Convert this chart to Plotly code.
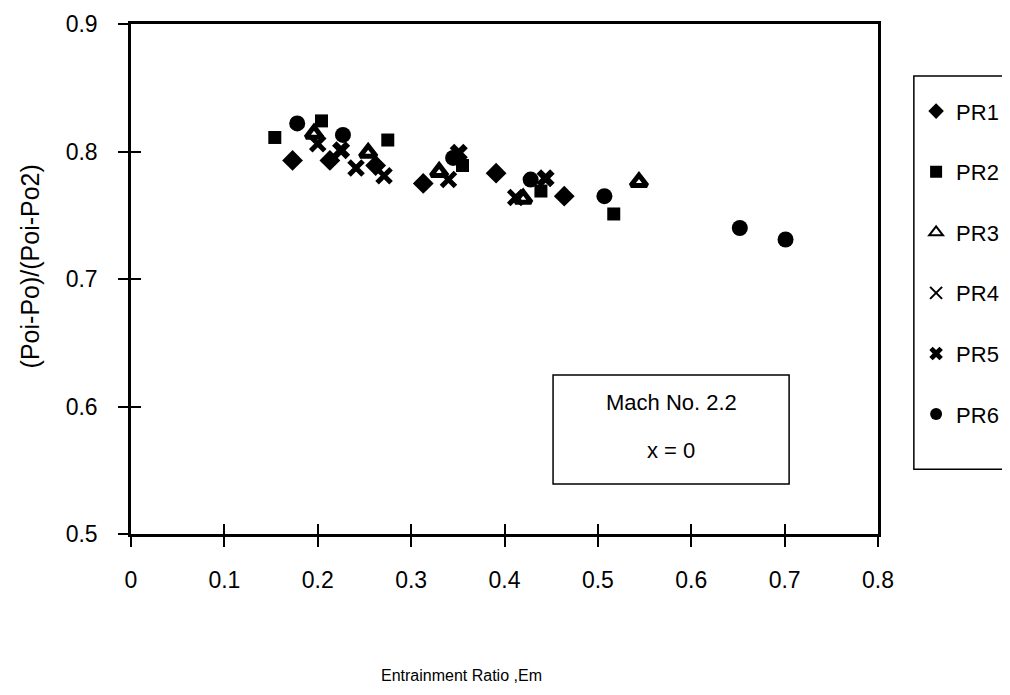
import plotly.graph_objects as go

# ---- data ----
pr1_x = [0.173, 0.213, 0.262, 0.313, 0.391, 0.464]
pr1_y = [0.793, 0.793, 0.789, 0.775, 0.783, 0.765]

pr2_x = [0.154, 0.204, 0.275, 0.355, 0.439, 0.517]
pr2_y = [0.811, 0.824, 0.809, 0.789, 0.769, 0.751]

pr3_x = [0.196, 0.254, 0.330, 0.420, 0.544]
pr3_y = [0.814, 0.799, 0.784, 0.763, 0.776]

pr4_x = [0.200, 0.241, 0.271, 0.340, 0.412]
pr4_y = [0.806, 0.787, 0.781, 0.778, 0.764]

pr5_x = [0.225, 0.351, 0.444]
pr5_y = [0.801, 0.799, 0.779]

pr6_x = [0.178, 0.227, 0.345, 0.428, 0.507, 0.652, 0.701]
pr6_y = [0.822, 0.813, 0.795, 0.778, 0.765, 0.740, 0.731]

series_names = ["PR1", "PR2", "PR3", "PR4", "PR5", "PR6"]
x_ticks = [0, 0.1, 0.2, 0.3, 0.4, 0.5, 0.6, 0.7, 0.8]
x_tick_labels = ["0", "0.1", "0.2", "0.3", "0.4", "0.5", "0.6", "0.7", "0.8"]
y_ticks = [0.5, 0.6, 0.7, 0.8, 0.9]
y_tick_labels = ["0.5", "0.6", "0.7", "0.8", "0.9"]

FONT = "Liberation Sans, Arial, sans-serif"

styles = [
    dict(symbol="diamond", size=16, color="black"),
    dict(symbol="square", size=13, color="black"),
    dict(symbol="triangle-up-open", size=14, color="black", line=dict(width=5, color="black")),
    dict(symbol="x-thin-open", size=14, color="black", line=dict(width=5, color="black")),
    dict(symbol="x", size=16, color="black", line=dict(width=0)),
    dict(symbol="circle", size=16, color="black"),
]
xs = [pr1_x, pr2_x, pr3_x, pr4_x, pr5_x, pr6_x]
ys = [pr1_y, pr2_y, pr3_y, pr4_y, pr5_y, pr6_y]

fig = go.Figure()
for name, x, y, st in zip(series_names, xs, ys, styles):
    fig.add_trace(go.Scatter(
        x=x, y=y, mode="markers", name=name, legendgroup=name,
        marker=st,
    ))

# invisible trace on overlay axes so the inner tick halves are drawn
fig.add_trace(go.Scatter(x=[0.4], y=[0.7], xaxis="x2", yaxis="y2",
                         mode="markers", marker=dict(opacity=0),
                         showlegend=False, hoverinfo="skip"))

axis_common = dict(showgrid=False, zeroline=False, showline=True,
                   linecolor="black", linewidth=2.5, mirror=True,
                   tickcolor="black", tickwidth=2, ticklen=10,
                   automargin=False)

fig.update_layout(
    width=1010, height=695,
    paper_bgcolor="white", plot_bgcolor="white",
    margin=dict(l=123, r=140, t=16, b=169),
    font=dict(family=FONT, size=22, color="black"),
    showlegend=True,
    legend=dict(
        x=1.051, xanchor="left", y=0.870, yanchor="top",
        borderwidth=0, bgcolor="rgba(0,0,0,0)",
        font=dict(size=22), traceorder="grouped", tracegroupgap=29,
        itemsizing="constant",
    ),
    xaxis=dict(range=[0, 0.8], tickvals=x_ticks, ticktext=x_tick_labels,
               ticks="outside", ticklabelstandoff=14,
               tickfont=dict(size=23),
               **axis_common),
    yaxis=dict(range=[0.5, 0.9], tickvals=y_ticks, ticktext=y_tick_labels,
               ticks="outside", ticklabelstandoff=16,
               tickfont=dict(size=23),
               **axis_common),
    xaxis2=dict(range=[0, 0.8], overlaying="x", side="bottom",
                tickvals=x_ticks, ticks="inside", showticklabels=False,
                showgrid=False, zeroline=False, showline=False,
                tickcolor="black", tickwidth=2, ticklen=10),
    yaxis2=dict(range=[0.5, 0.9], overlaying="y", side="left",
                tickvals=y_ticks, ticks="inside", showticklabels=False,
                showgrid=False, zeroline=False, showline=False,
                tickcolor="black", tickwidth=2, ticklen=10),
)

# axis titles
fig.add_annotation(xref="paper", yref="paper", x=0.443, y=-0.278,
                   xanchor="center", yanchor="middle",
                   text="Entrainment Ratio ,Em", showarrow=False,
                   font=dict(size=16, family=FONT))
fig.add_annotation(xref="paper", yref="paper", x=-0.135, y=0.525,
                   xanchor="center", yanchor="middle", textangle=-90,
                   text="(Poi-Po)/(Poi-Po2)", showarrow=False,
                   font=dict(size=25, family=FONT))

# legend frame
fig.add_shape(type="rect", xref="paper", yref="paper",
              x0=1.048, x1=1.175, y0=0.127, y1=0.898,
              line=dict(color="black", width=1.5))

# annotation box "Mach No. 2.2 / x = 0"
fig.add_shape(type="rect", xref="paper", yref="paper",
              x0=0.565, x1=0.881, y0=0.098, y1=0.312,
              line=dict(color="black", width=1.5), fillcolor="white",
              layer="below")
fig.add_annotation(xref="paper", yref="paper", x=0.723, y=0.257,
                   xanchor="center", yanchor="middle",
                   text="Mach No. 2.2", showarrow=False,
                   font=dict(size=22, family=FONT))
fig.add_annotation(xref="paper", yref="paper", x=0.723, y=0.163,
                   xanchor="center", yanchor="middle",
                   text="x = 0", showarrow=False,
                   font=dict(size=22, family=FONT))

fig.write_html("out.html")
